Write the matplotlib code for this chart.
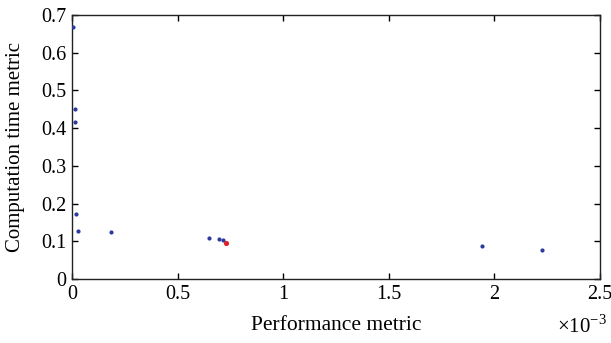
import matplotlib
matplotlib.use("Agg")
import matplotlib.pyplot as plt
from matplotlib.ticker import FuncFormatter

plt.rcParams['font.family'] = ['Liberation Serif', 'DejaVu Serif']
plt.rcParams['mathtext.fontset'] = 'custom'
plt.rcParams['mathtext.rm'] = 'Liberation Serif'

# Data (performance metric in raw units; axis shown in units of 1e-3)
perf_blue = [0.006e-3, 0.013e-3, 0.016e-3, 0.017e-3, 0.030e-3, 0.184e-3,
             0.648e-3, 0.694e-3, 0.714e-3, 1.941e-3, 2.226e-3]
time_blue = [0.667, 0.451, 0.416, 0.172, 0.128, 0.125,
             0.110, 0.107, 0.104, 0.087, 0.076]
perf_red = [0.729e-3]
time_red = [0.096]

xticks = [0, 0.5e-3, 1.0e-3, 1.5e-3, 2.0e-3, 2.5e-3]
yticks = [0, 0.1, 0.2, 0.3, 0.4, 0.5, 0.6, 0.7]

W, H = 611, 343
fig = plt.figure(figsize=(W/100, H/100), dpi=100)
ax = fig.add_axes([72/W, 1 - 279/H, (600-72)/W, (279-15)/H])

ax.scatter(perf_blue, time_blue, s=9, color='#2b3a9e', zorder=3, linewidths=0)
ax.scatter(perf_red, time_red, s=14, color='#e02028', zorder=4, linewidths=0)

ax.set_xlim(0, 2.5e-3)
ax.set_ylim(0, 0.7)
ax.set_xticks(xticks)
ax.set_yticks(yticks)
ax.xaxis.set_major_formatter(FuncFormatter(lambda v, p: f"{v*1e3:g}"))
ax.yaxis.set_major_formatter(FuncFormatter(lambda v, p: f"{v:g}"))

ax.tick_params(direction='in', top=True, right=True, length=4, width=1,
               labelsize=14.5, colors='black', pad=4)
for s in ax.spines.values():
    s.set_linewidth(1.0)
    s.set_color('#222222')

ax.set_xlabel('Performance metric', fontsize=15.5)
ax.set_ylabel('Computation time metric', fontsize=15)
ax.xaxis.set_label_coords(0.5, (279 - 316) / 264)
ax.yaxis.set_label_coords((25 - 72) / 528, 0.5)
fig.text(557/W, 1 - 333/H, r'$\times 10^{-3}$', fontsize=15,
         ha='left', va='baseline')

fig.savefig('out.png', dpi=100)
